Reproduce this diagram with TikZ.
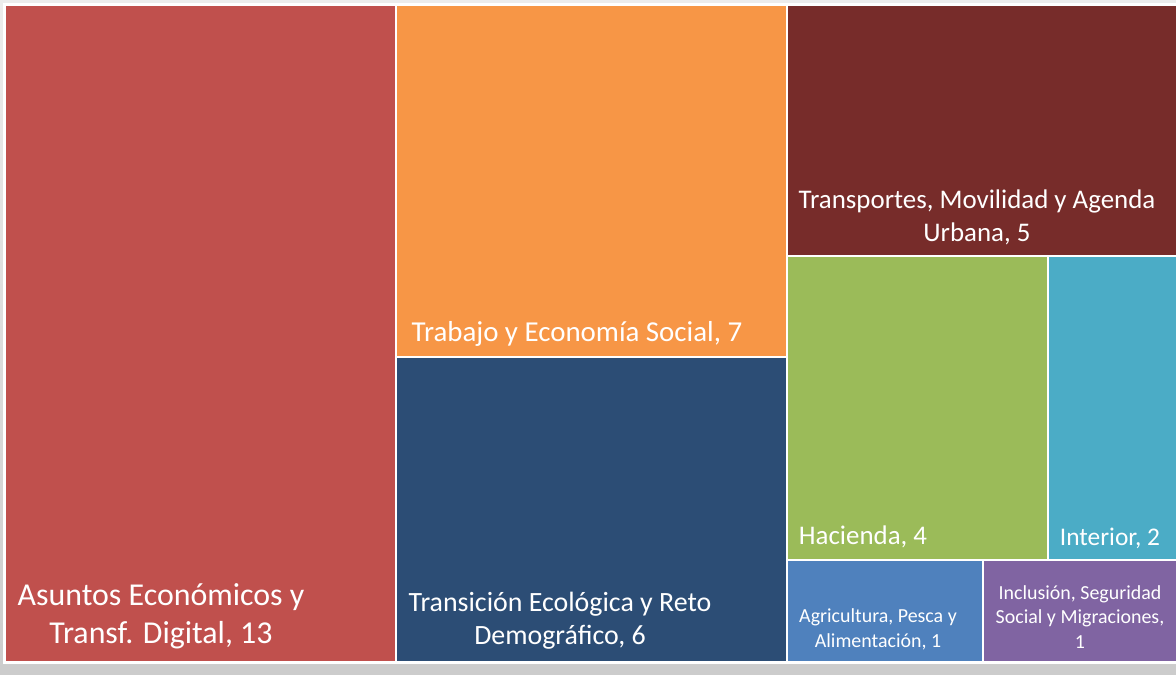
\documentclass[tikz,border=0pt]{standalone}
\usepackage{fontspec}
\setmainfont{Carlito}
\usepackage{tikz}
\definecolor{asuntos}{HTML}{C0504D}
\definecolor{trabajo}{HTML}{F79646}
\definecolor{transicion}{HTML}{2C4D75}
\definecolor{transportes}{HTML}{772C2A}
\definecolor{hacienda}{HTML}{9BBB59}
\definecolor{interior}{HTML}{4BACC6}
\definecolor{agricultura}{HTML}{4F81BD}
\definecolor{inclusion}{HTML}{8064A2}
\newcommand{\fs}[2]{\fontsize{#1}{#2}\selectfont}

\begin{document}
\begin{tikzpicture}[x=1bp, y=-1bp, every node/.style={text=white, align=center, inner sep=0pt}]
\useasboundingbox (0,0) rectangle (1176,675);
\shade[top color=gray!15, bottom color=gray!40] (0,0) rectangle (1176,675);
\fill[white] (3,3) rectangle (1176,664);
\draw[fill = asuntos, draw = white, line width = 2bp] (5,5) rectangle (396,662);
\draw[fill = trabajo, draw = white, line width = 2bp] (396,5) rectangle (787,357);
\draw[fill = transicion, draw = white, line width = 2bp] (396,357) rectangle (787,662);
\draw[fill = transportes, draw = white, line width = 2bp] (787,5) rectangle (1180,256);
\draw[fill = hacienda, draw = white, line width = 2bp] (787,256) rectangle (1048,560);
\draw[fill = interior, draw = white, line width = 2bp] (1048,256) rectangle (1180,560);
\draw[fill = agricultura, draw = white, line width = 2bp] (787,560) rectangle (983,662);
\draw[fill = inclusion, draw = white, line width = 2bp] (983,560) rectangle (1180,662);
\node[font=\fs{32}{38}] (asuntos) at (161,616) {Asuntos Económicos y\\Transf. Digital, 13};
\node[font=\fs{29}{33}] (trabajo) at (577,334) {Trabajo y Economía Social, 7};
\node[font=\fs{28}{33}] (transicion) at (560,621) {Transición Ecológica y Reto\\Demográfico, 6};
\node[font=\fs{27}{33}] (transportes) at (977,217) {Transportes, Movilidad y Agenda\\Urbana, 5};
\node[font=\fs{27}{33}] (hacienda) at (863,537) {Hacienda, 4};
\node[font=\fs{25.5}{30}] (interior) at (1110,538) {Interior, 2};
\node[font=\fs{20}{25}] (agricultura) at (878,629) {Agricultura, Pesca y\\Alimentación, 1};
\node[font=\fs{20}{25}] (inclusion) at (1080,617) {Inclusión, Seguridad\\Social y Migraciones,\\1};
\end{tikzpicture}
\end{document}
